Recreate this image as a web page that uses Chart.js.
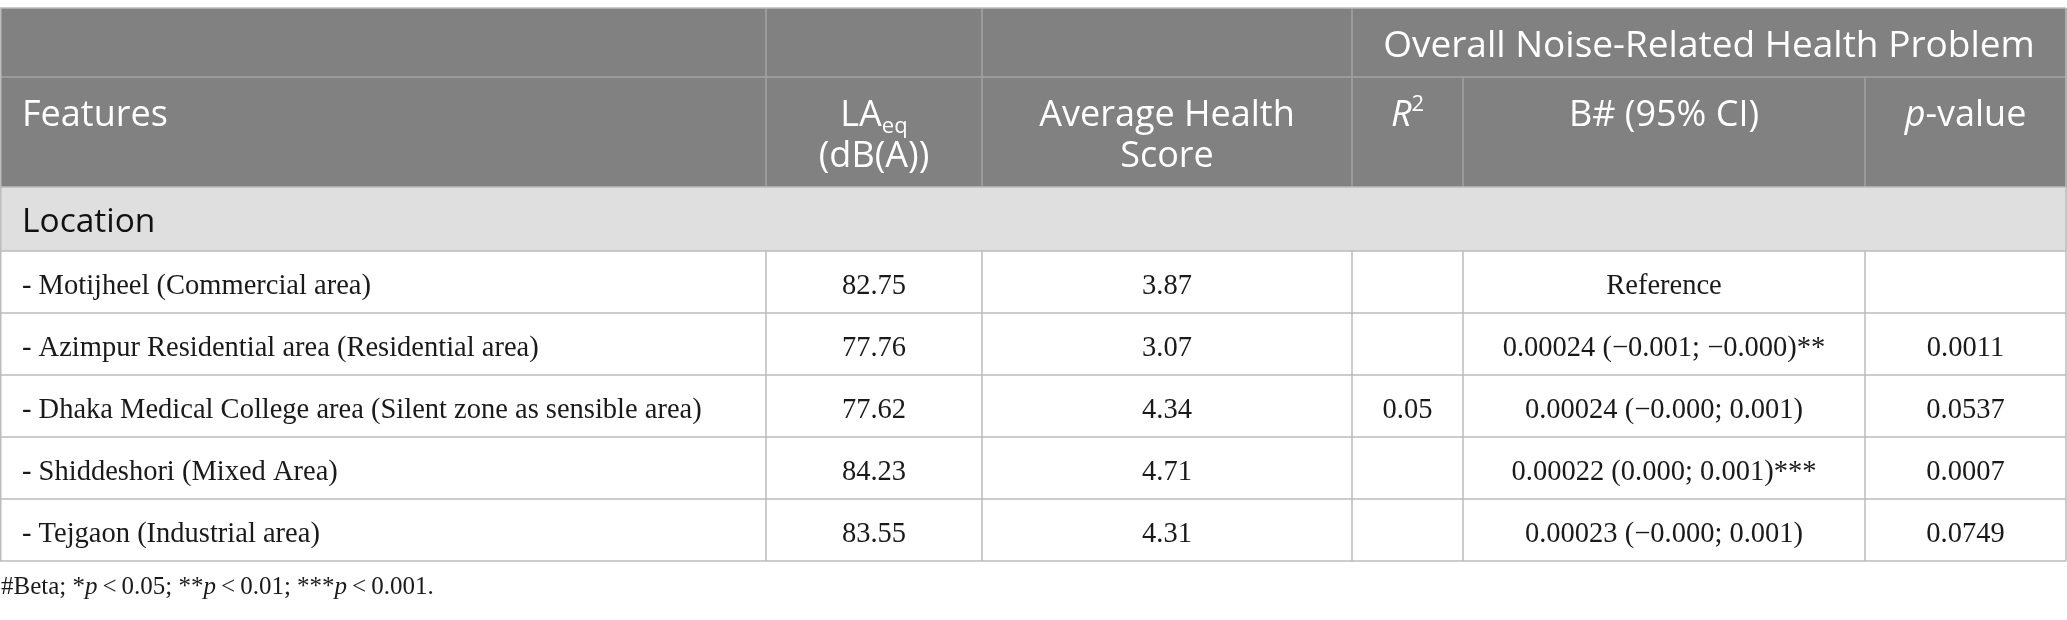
<!DOCTYPE html>
<html>
<head>
<meta charset="utf-8">
<script src="https://cdn.jsdelivr.net/npm/chart.js@4.4.0/dist/chart.umd.min.js"></script>
<style>
html,body{margin:0;padding:0;background:#ffffff;overflow:hidden}
#wrap{width:2067px;height:620px;position:relative}
canvas{display:block}
</style>
</head>
<body>
<div id="wrap"><canvas id="c" width="2067" height="620"></canvas></div>
<script>
// ---------------- data ----------------
const groupHeader = "Overall Noise-Related Health Problem";
const sectionLabel = "Location";
const features = [
  "- Motijheel (Commercial area)",
  "- Azimpur Residential area (Residential area)",
  "- Dhaka Medical College area (Silent zone as sensible area)",
  "- Shiddeshori (Mixed Area)",
  "- Tejgaon (Industrial area)"
];
const laeq = [82.75, 77.76, 77.62, 84.23, 83.55];
const avgHealthScore = [3.87, 3.07, 4.34, 4.71, 4.31];
const rSquared = [null, null, 0.05, null, null];
const betaCI = [
  "Reference",
  "0.00024 (\u22120.001; \u22120.000)**",
  "0.00024 (\u22120.000; 0.001)",
  "0.00022 (0.000; 0.001)***",
  "0.00023 (\u22120.000; 0.001)"
];
const pValues = [null, 0.0011, 0.0537, 0.0007, 0.0749];

// ---------------- styling / layout ----------------
const SANS = '"Open Sans", "Noto Sans", sans-serif';
const SERIF = '"Liberation Serif", "DejaVu Serif", serif';
const colEdges = [0, 766, 982, 1352, 1463, 1865, 2066];
const rowEdges = [8, 77, 187, 251, 313, 375, 437, 499, 561];
const HEAD_BG = '#808180';
const SECTION_BG = '#e0dfe0';
const HEAD_LINE = '#a2a3a2';
const BODY_LINE = '#bcbcbc';
const TEXT = '#1a1a1a';

const colMid = c => (colEdges[c] + colEdges[c + 1]) / 2;
const rowMid = r => (rowEdges[r] + rowEdges[r + 1]) / 2;

const fmt = (v, d) => (v === null || v === undefined) ? "" : v.toFixed(d);
const columnTexts = [
  features,
  laeq.map(v => fmt(v, 2)),
  avgHealthScore.map(v => fmt(v, 2)),
  rSquared.map(v => fmt(v, 2)),
  betaCI,
  pValues.map(v => fmt(v, 4))
];

const datasets = columnTexts.map((texts, c) => ({
  label: 'col' + c,
  texts: texts,
  align: c === 0 ? 'left' : 'center',
  data: texts.map((t, r) => ({ x: c === 0 ? colEdges[0] + 22 : colMid(c), y: rowMid(3 + r) })),
  pointRadius: 0,
  pointHoverRadius: 0,
  showLine: false
}));

function drawRuns(ctx, runs, x, y, align) {
  let w = 0;
  runs.forEach(r => { ctx.font = r.font; r.w = ctx.measureText(r.t).width; w += r.w; });
  let sx = align === 'center' ? x - w / 2 : (align === 'right' ? x - w : x);
  ctx.textAlign = 'left';
  runs.forEach(r => {
    ctx.font = r.font;
    ctx.fillText(r.t, sx, y + (r.dy || 0));
    sx += r.w;
  });
}

const tablePlugin = {
  id: 'tablePlugin',
  beforeDatasetsDraw(chart) {
    const ctx = chart.ctx;
    const xs = chart.scales.x, ys = chart.scales.y;
    const X = v => xs.getPixelForValue(v);
    const Y = v => ys.getPixelForValue(v);
    const L = X(colEdges[0]), R = X(colEdges[colEdges.length - 1]);
    ctx.save();
    // header background
    ctx.fillStyle = HEAD_BG;
    ctx.fillRect(L, Y(rowEdges[0]), R - L + 1, Y(rowEdges[2]) - Y(rowEdges[0]));
    // section row
    ctx.fillStyle = SECTION_BG;
    ctx.fillRect(L, Y(rowEdges[2]), R - L + 1, Y(rowEdges[3]) - Y(rowEdges[2]));
    ctx.lineWidth = 1.5;
    // header lines
    ctx.strokeStyle = HEAD_LINE;
    ctx.beginPath();
    ctx.moveTo(L, Y(rowEdges[1])); ctx.lineTo(R, Y(rowEdges[1]));
    [1, 2, 3].forEach(c => { ctx.moveTo(X(colEdges[c]), Y(rowEdges[0])); ctx.lineTo(X(colEdges[c]), Y(rowEdges[2])); });
    ctx.moveTo(X(colEdges[4]), Y(rowEdges[1])); ctx.lineTo(X(colEdges[4]), Y(rowEdges[2]));
    ctx.moveTo(X(colEdges[5]), Y(rowEdges[1])); ctx.lineTo(X(colEdges[5]), Y(rowEdges[2]));
    ctx.stroke();
    // body lines
    ctx.strokeStyle = BODY_LINE;
    ctx.beginPath();
    ctx.moveTo(L, Y(rowEdges[0])); ctx.lineTo(R, Y(rowEdges[0]));
    for (let r = 2; r < rowEdges.length; r++) { ctx.moveTo(L, Y(rowEdges[r])); ctx.lineTo(R, Y(rowEdges[r])); }
    for (let c = 1; c < colEdges.length - 1; c++) { ctx.moveTo(X(colEdges[c]), Y(rowEdges[3])); ctx.lineTo(X(colEdges[c]), Y(rowEdges[rowEdges.length - 1])); }
    ctx.moveTo(L + 0.75, Y(rowEdges[0])); ctx.lineTo(L + 0.75, Y(rowEdges[rowEdges.length - 1]));
    ctx.moveTo(R, Y(rowEdges[0])); ctx.lineTo(R, Y(rowEdges[rowEdges.length - 1]));
    ctx.stroke();

    // header texts
    ctx.fillStyle = '#ffffff';
    ctx.textBaseline = 'alphabetic';
    const h1 = '37px ' + SANS, h2 = '36px ' + SANS, hi = 'italic 36px ' + SANS, hs = '22px ' + SANS;
    drawRuns(ctx, [{ t: groupHeader, font: h1 }], X((colEdges[3] + colEdges[6]) / 2), Y(rowEdges[0] + 48.5), 'center');
    const b1 = Y(rowEdges[1] + 49), b2 = Y(rowEdges[1] + 90);
    drawRuns(ctx, [{ t: 'Features', font: h2 }], X(colEdges[0] + 22), b1, 'left');
    drawRuns(ctx, [{ t: 'LA', font: h2 }, { t: 'eq', font: hs, dy: 7 }], X(colMid(1)), b1, 'center');
    drawRuns(ctx, [{ t: '(dB(A))', font: h2 }], X(colMid(1)), b2, 'center');
    drawRuns(ctx, [{ t: 'Average Health', font: h2 }], X(colMid(2)), b1, 'center');
    drawRuns(ctx, [{ t: 'Score', font: h2 }], X(colMid(2)), b2, 'center');
    drawRuns(ctx, [{ t: 'R', font: hi }, { t: '2', font: hs, dy: -15 }], X(colMid(3)), b1, 'center');
    drawRuns(ctx, [{ t: 'B# (95% CI)', font: h2 }], X(colMid(4)), b1, 'center');
    drawRuns(ctx, [{ t: 'p', font: hi }, { t: '-value', font: h2 }], X(colMid(5)), b1, 'center');
    // section label
    ctx.fillStyle = '#111111';
    drawRuns(ctx, [{ t: sectionLabel, font: '33.5px ' + SANS }], X(colEdges[0] + 22), Y(rowEdges[2] + 45), 'left');
    // footnote
    const fn = '25px ' + SERIF, fi = 'italic 25px ' + SERIF;
    ctx.fillStyle = TEXT;
    drawRuns(ctx, [
      { t: '#Beta; *', font: fn }, { t: 'p', font: fi }, { t: '\u2009<\u20090.05; **', font: fn },
      { t: 'p', font: fi }, { t: '\u2009<\u20090.01; ***', font: fn }, { t: 'p', font: fi },
      { t: '\u2009<\u20090.001.', font: fn }
    ], X(colEdges[0] + 1), Y(594), 'left');
    ctx.restore();
  },
  afterDatasetsDraw(chart) {
    const ctx = chart.ctx;
    ctx.save();
    ctx.fillStyle = TEXT;
    ctx.textBaseline = 'alphabetic';
    ctx.font = '28.5px ' + SERIF;
    chart.data.datasets.forEach((ds, di) => {
      const meta = chart.getDatasetMeta(di);
      meta.data.forEach((pt, i) => {
        const t = ds.texts[i];
        if (!t) return;
        ctx.textAlign = ds.align;
        ctx.fillText(t, pt.x, pt.y + 11.5);
      });
    });
    ctx.restore();
  }
};

new Chart(document.getElementById('c'), {
  type: 'scatter',
  data: { datasets: datasets },
  options: {
    responsive: false,
    animation: false,
    devicePixelRatio: 1,
    events: [],
    layout: { padding: 0 },
    plugins: { legend: { display: false }, tooltip: { enabled: false } },
    scales: {
      x: { type: 'linear', min: 0, max: 2067, display: false },
      y: { type: 'linear', min: 0, max: 620, reverse: true, display: false }
    }
  },
  plugins: [tablePlugin]
});
</script>
</body>
</html>
